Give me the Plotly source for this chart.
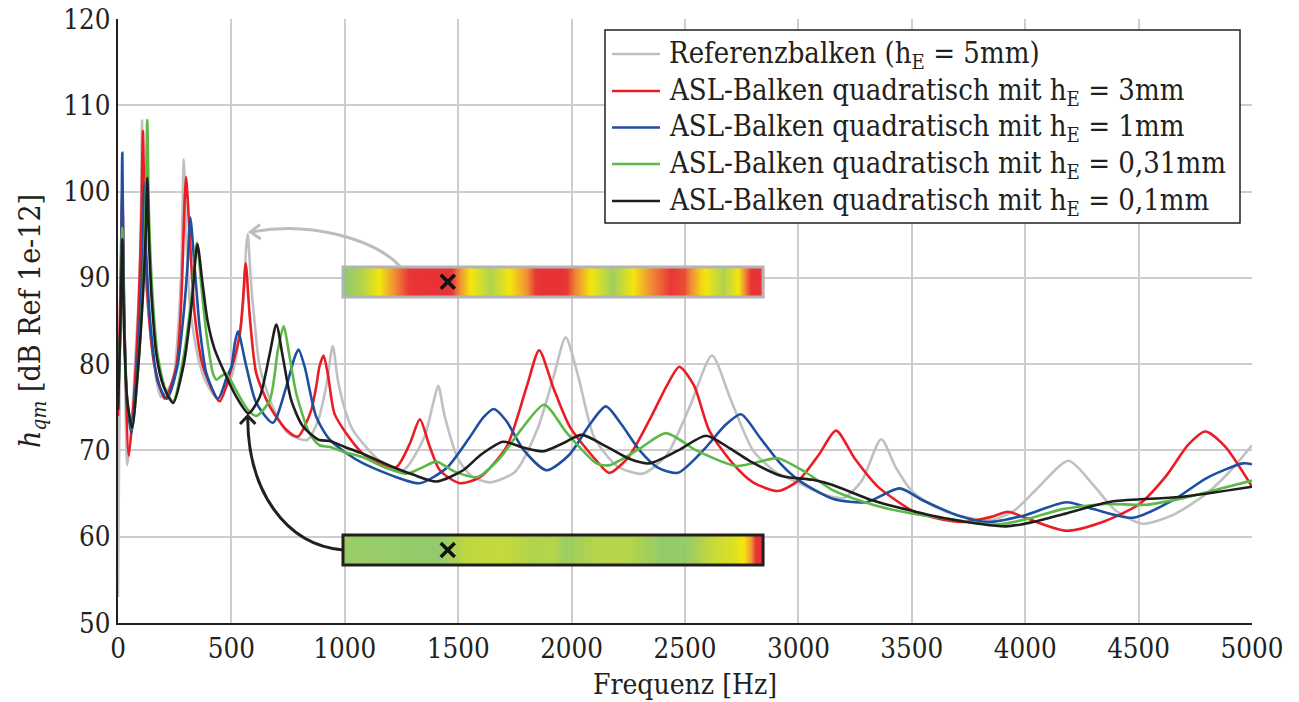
import plotly.graph_objects as go

# Frequency response h_qm [dB] of the reference beam and the ASL beam variants
# (frequency in Hz, level in dB)
ref_pts = [(0, 53), (8, 80), (20, 98), (30, 82), (41, 68.3), (60, 73), (75, 80), (95, 90),
           (102, 99), (106, 108.2), (110, 100), (120, 91), (150, 82), (190, 76.2), (240, 78),
           (265, 84), (280, 92), (290, 103.7), (301, 95), (320, 86), (360, 80), (400, 77.3),
           (440, 76), (500, 78.5), (540, 84), (555, 88), (565, 93.5), (572, 95.1), (585, 90),
           (600, 85.5), (625, 79.7), (683, 75), (750, 72), (833, 71.2), (880, 73.3), (918, 77.4),
           (947, 82.1), (969, 78.2), (1006, 74.3), (1037, 72.3), (1154, 68.8), (1257, 67.7),
           (1350, 71.5), (1390, 75.5), (1412, 77.5), (1440, 74), (1500, 69), (1560, 67),
           (1640, 66.3), (1750, 67.5), (1850, 72.5), (1920, 78.5), (1974, 83.1), (2030, 78.5),
           (2100, 71.5), (2200, 68.2), (2313, 67.3), (2420, 69.5), (2520, 75), (2619, 81),
           (2700, 76), (2800, 70), (2900, 67.5), (3004, 66.2), (3100, 65), (3200, 64.5),
           (3280, 66.5), (3365, 71.3), (3430, 68), (3500, 65.3), (3600, 63.5), (3700, 62.5),
           (3843, 61.9), (3950, 63), (4050, 65.5), (4191, 68.8), (4300, 66), (4400, 63),
           (4519, 61.5), (4650, 62.5), (4800, 65), (4900, 67.5), (5000, 70.6)]

asl_3mm_pts = [(0, 74), (10, 88), (19, 100), (28, 85), (48, 69.4), (70, 76), (90, 86), (103, 97),
               (110, 107), (117, 97), (130, 88), (160, 80), (206, 76), (257, 79.7), (279, 87.4),
               (294, 99), (300, 101.7), (316, 95), (338, 85.8), (375, 79.7), (448, 75.7),
               (500, 79.5), (537, 83.5), (551, 87.4), (563, 91.7), (581, 85.5), (610, 78.9),
               (669, 75.1), (742, 72.4), (793, 71.6), (850, 74.5), (874, 77.4), (888, 79.7),
               (906, 81), (925, 78.9), (954, 74.3), (1006, 72), (1081, 69.6), (1154, 68.5),
               (1228, 68.1), (1287, 70.8), (1331, 73.6), (1375, 70.4), (1419, 67.7), (1507, 66.2),
               (1596, 66.9), (1713, 70.4), (1801, 77.3), (1857, 81.6), (1919, 77.3), (1993, 72.7),
               (2110, 68.8), (2166, 67.4), (2250, 69.2), (2343, 73.5), (2420, 77.5), (2475, 79.7),
               (2540, 77.5), (2607, 72.3), (2710, 68.5), (2800, 66.3), (2909, 65.3), (3000, 66.5),
               (3090, 69.5), (3166, 72.3), (3250, 69), (3350, 65.8), (3431, 64.2), (3504, 63),
               (3600, 62.2), (3725, 61.7), (3850, 62.3), (3924, 62.9), (4000, 62.2), (4181, 60.7),
               (4350, 61.8), (4504, 63.8), (4620, 67), (4720, 70.7), (4794, 72.2), (4880, 70.5),
               (5000, 65.8)]

asl_1mm_pts = [(0, 75), (12, 86), (19, 104.5), (26, 87), (40, 76), (59, 72), (80, 78), (100, 87),
               (110, 94), (116, 100.8), (124, 93), (145, 84), (175, 78), (215, 76), (260, 79.5),
               (290, 86), (308, 92), (319, 97), (338, 91.2), (360, 84.3), (390, 78.9), (441, 76),
               (480, 78.5), (500, 79.7), (515, 82.4), (529, 83.8), (566, 79.7), (610, 75.5),
               (683, 73.2), (742, 77.4), (779, 80.8), (796, 81.7), (823, 79.7), (874, 73.9),
               (932, 71.3), (1006, 69.7), (1081, 68.5), (1228, 66.9), (1331, 66.2), (1450, 68),
               (1550, 71.5), (1610, 73.8), (1657, 74.8), (1710, 73.5), (1790, 70), (1890, 67.7),
               (1990, 69.5), (2080, 73), (2151, 75.1), (2220, 73), (2300, 70), (2380, 68),
               (2468, 67.4), (2580, 70), (2680, 73), (2747, 74.2), (2830, 71.5), (2920, 68.5),
               (3004, 66.5), (3151, 64.4), (3300, 64), (3446, 65.6), (3550, 64.2), (3700, 62.5),
               (3843, 61.7), (4000, 62.5), (4181, 64), (4300, 63.2), (4475, 62.2), (4650, 64.2),
               (4800, 66.8), (4960, 68.5), (5000, 68.4)]

asl_031mm_pts = [(0, 75), (10, 84), (19, 95.8), (27, 84), (40, 76), (62, 72.5), (90, 80), (112, 90),
                 (122, 98), (129, 108.3), (136, 98), (150, 89), (175, 81), (210, 77), (243, 75.7),
                 (290, 81), (325, 88), (348, 94.1), (368, 88.9), (390, 83.5), (419, 78.9),
                 (434, 78.2), (455, 78.6), (478, 78.9), (520, 77), (570, 74.8), (610, 74),
                 (669, 75.8), (705, 81.6), (730, 84.4), (757, 80.8), (786, 76.6), (844, 72),
                 (888, 70.6), (934, 70.4), (1000, 69.8), (1081, 69.2), (1180, 68), (1272, 67.3),
                 (1340, 68), (1404, 68.7), (1480, 67.6), (1581, 66.9), (1680, 69), (1780, 72.5),
                 (1879, 75.3), (1980, 72), (2110, 68.5), (2169, 68.3), (2300, 70.2), (2416, 72),
                 (2550, 70), (2725, 68.2), (2830, 68.7), (2909, 69.1), (3030, 67.5), (3151, 65.4),
                 (3269, 64.2), (3400, 63.2), (3500, 62.7), (3651, 62.1), (3872, 61.4), (4000, 62),
                 (4166, 63.2), (4357, 63.8), (4534, 63.7), (4700, 64.5), (4850, 65.5), (5000, 66.5)]

asl_01mm_pts = [(0, 74.7), (10, 84), (19, 94.5), (27, 84), (40, 76), (62, 72.6), (90, 80), (112, 89),
                (122, 95), (129, 101.6), (137, 94), (150, 87), (170, 81), (200, 77.5), (243, 75.5),
                (290, 80), (325, 87), (350, 93.9), (372, 89.5), (395, 85), (425, 81.8), (463, 79.4),
                (522, 76.2), (575, 74.3), (625, 76.2), (669, 81.2), (698, 84.6), (727, 80.8),
                (764, 75.8), (815, 72.8), (888, 71.2), (934, 71.1), (1000, 70.4), (1081, 69.6),
                (1228, 67.9), (1300, 67.2), (1404, 66.4), (1522, 67.7), (1600, 69.5), (1698, 71),
                (1790, 70.3), (1875, 69.9), (1960, 70.8), (2044, 71.8), (2150, 70.5), (2257, 69),
                (2343, 68.5), (2470, 70), (2593, 71.7), (2700, 70.2), (2784, 68.8), (2931, 67),
                (3063, 66.6), (3151, 66), (3328, 64.2), (3500, 63), (3651, 62.1), (3916, 61.2),
                (4050, 61.8), (4166, 62.6), (4387, 64.1), (4681, 64.6), (5000, 65.8)]

series_names = ["Referenzbalken (h<sub>E</sub> = 5mm)",
                "ASL-Balken quadratisch mit h<sub>E</sub> = 3mm",
                "ASL-Balken quadratisch mit h<sub>E</sub> = 1mm",
                "ASL-Balken quadratisch mit h<sub>E</sub> = 0,31mm",
                "ASL-Balken quadratisch mit h<sub>E</sub> = 0,1mm"]
series_colors = ["#c0c0c2", "#ec1c24", "#1f4f9f", "#5cb947", "#1e1e1e"]

x_ticks = [0, 500, 1000, 1500, 2000, 2500, 3000, 3500, 4000, 4500, 5000]
y_ticks = [50, 60, 70, 80, 90, 100, 110, 120]

# Normalised level distribution along the beam (0 = low, 1 = high), position 0..1
field_ref_pos = [0, 0.004, 0.04, 0.085, 0.12, 0.17, 0.2, 0.25, 0.27, 0.3, 0.35, 0.395, 0.435,
                 0.47, 0.52, 0.545, 0.585, 0.64, 0.69, 0.73, 0.78, 0.81, 0.85, 0.905, 0.94,
                 0.96, 0.98, 0.996, 1.0]
field_ref_val = [0.0, 0.0, 0.1, 0.33, 0.6, 0.95, 1.0, 1.0, 0.7, 0.35, 0.1, 0.33, 0.6, 1.0, 1.0,
                 0.7, 0.35, 0.05, 0.33, 0.6, 0.85, 0.8, 0.4, 0.1, 0.33, 0.7, 1.0, 1.0, 1.0]
field_asl_pos = [0, 0.004, 0.23, 0.29, 0.38, 0.45, 0.5, 0.53, 0.6, 0.68, 0.76, 0.82, 0.88,
                 0.93, 0.955, 0.972, 0.985, 0.996, 1.0]
field_asl_val = [0.02, 0.02, 0.0, 0.15, 0.17, 0.1, 0.12, 0.03, 0.12, 0.12, 0.0, 0.02, 0.18,
                 0.25, 0.35, 0.6, 1.0, 1.0, 1.0]
field_colorscale = [[0.0, "#8dc863"], [0.33, "#f3e600"], [0.62, "#f0862a"],
                    [0.85, "#e92d2a"], [1.0, "#e8262a"]]

FONT = "DejaVu Serif Condensed, DejaVu Serif, serif"
TEXT = "#231f20"

# plot area in pixels (figure 1299 x 702)
L, R, T, B = 118, 47, 19, 79
W, H = 1299, 702
PW, PH = W - L - R, H - T - B


def px(x):
    return (x - L) / PW


def py(y):
    return (H - B - y) / PH


fig = go.Figure()


def add_field(pos, val, x0, x1, y0, y1, border):
    # colour strip showing the level distribution over the beam length
    xs = [x0 + p * (x1 - x0) for p in pos]
    h = y1 - y0
    ys = [y0 + h / 4, y0 + 3 * h / 4]
    fig.add_trace(go.Heatmap(x=xs, y=ys, z=[val, val], colorscale=field_colorscale,
                             zmin=0, zmax=1, zsmooth="best", showscale=False,
                             hoverinfo="skip", opacity=0.94, showlegend=False))
    fig.add_shape(type="rect", x0=x0, x1=x1, y0=y0, y1=y1, xref="x", yref="y",
                  line=dict(color=border, width=3))


add_field(field_ref_pos, field_ref_val, 992, 2844, 87.78, 91.26, "#b4b4b6")
add_field(field_asl_pos, field_asl_val, 992, 2844, 56.72, 60.20, "#231f20")

for pts, name, color in zip([ref_pts, asl_3mm_pts, asl_1mm_pts, asl_031mm_pts, asl_01mm_pts],
                            series_names, series_colors):
    f, h = zip(*pts)
    fig.add_trace(go.Scatter(x=list(f), y=list(h), mode="lines", name=name, showlegend=False,
                             line=dict(color=color, width=2.6, shape="spline", smoothing=0.7),
                             hoverinfo="x+y"))

# excitation point markers on both strips
fig.add_trace(go.Scatter(x=[1454, 1454], y=[89.55, 58.46], mode="markers", showlegend=False,
                         hoverinfo="skip",
                         marker=dict(symbol="x-thin", size=14, line=dict(color="#111111", width=3.5))))

# curved arrows from the strips to the corresponding peaks
fig.add_shape(type="path", xref="x", yref="y",
              path="M 1243,91.37 C 1133,94.39 847,96.7 586,95.3",
              line=dict(color="#bdbdbf", width=3))
fig.add_shape(type="path", xref="x", yref="y",
              path="M 626,96.18 L 584,95.32 L 630,94.5",
              line=dict(color="#bdbdbf", width=3))
fig.add_shape(type="path", xref="x", yref="y",
              path="M 992,58.46 C 736,59.04 573,65.4 572,73.76",
              line=dict(color="#231f20", width=3))
fig.add_shape(type="path", xref="x", yref="y",
              path="M 538,73.07 L 572,74.0 L 606,73.07",
              line=dict(color="#231f20", width=3))

# legend box with line samples and labels
fig.add_shape(type="rect", xref="paper", yref="paper",
              x0=px(605), x1=px(1240), y0=py(223), y1=py(30),
              line=dict(color=TEXT, width=1.5), fillcolor="white", layer="above")
legend_rows = [54, 91, 127.5, 164, 201]
for row, name, color in zip(legend_rows, series_names, series_colors):
    fig.add_shape(type="line", xref="paper", yref="paper",
                  x0=px(612), x1=px(660), y0=py(row), y1=py(row),
                  line=dict(color=color, width=2.6), layer="above")
    fig.add_annotation(xref="paper", yref="paper", x=px(667), y=py(row + 1),
                       xanchor="left", yanchor="middle", showarrow=False,
                       text=name, font=dict(family=FONT, size=29, color=TEXT))

fig.update_layout(
    width=W, height=H, autosize=False,
    margin=dict(l=L, r=R, t=T, b=B, pad=0, autoexpand=False),
    plot_bgcolor="white", paper_bgcolor="white",
    font=dict(family=FONT, size=27, color=TEXT),
    showlegend=False,
    xaxis=dict(range=[0, 5000], tickvals=x_ticks, ticktext=[str(v) for v in x_ticks],
               showgrid=True, gridcolor="#cdcdcd", gridwidth=1.5, zeroline=False,
               showline=True, linecolor=TEXT, linewidth=2, ticks="", automargin=False,
               tickfont=dict(family=FONT, size=27.5, color=TEXT),
               title=dict(text="Frequenz [Hz]", standoff=11,
                          font=dict(family=FONT, size=28, color=TEXT))),
    yaxis=dict(range=[50, 120], tickvals=y_ticks, ticktext=[str(v) for v in y_ticks],
               showgrid=True, gridcolor="#cdcdcd", gridwidth=1.5, zeroline=False,
               showline=True, linecolor=TEXT, linewidth=2, ticks="", automargin=False,
               tickfont=dict(family=FONT, size=27.5, color=TEXT),
               title=dict(text="<i>h</i><sub><i>qm</i></sub> [dB Ref 1e-12]", standoff=14,
                          font=dict(family=FONT, size=30, color=TEXT))),
)

fig.write_html("out.html")
